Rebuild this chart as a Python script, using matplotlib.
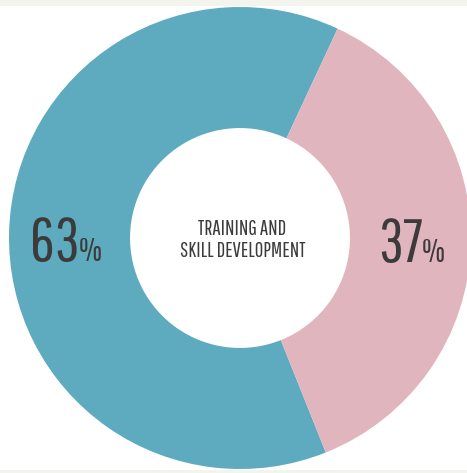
import matplotlib.pyplot as plt
from matplotlib.patches import Rectangle

shares = [63, 37]
labels = ['63', '37']
colors = ['#5eabbf', '#e1b5be']
center_lines = ['TRAINING AND', 'SKILL DEVELOPMENT']

font = ['Pathway Gothic One', 'Antonio', 'DejaVu Sans']
ink = '#3b3b3b'

fig = plt.figure(figsize=(4.67, 4.73), dpi=100, facecolor='#f4f4ee')
# white page area between the thin grey strips
fig.patches.append(Rectangle((0, 3 / 473), 1, 464 / 473, transform=fig.transFigure,
                             facecolor='white', edgecolor='none', zorder=-10))

ax = fig.add_axes([0, 0, 1, 1])
ax.set_zorder(1)
ax.patch.set_alpha(0)
ax.pie(shares, colors=colors, startangle=65, counterclock=True,
       wedgeprops=dict(width=0.524, edgecolor='none'))
r = 231
ax.set_xlim(-240 / r, (467 - 240) / r)
ax.set_ylim(-235 / r, 238 / r)
ax.set_aspect('auto')
ax.axis('off')

# big percentages
for x, y, lab in [(-0.693, -0.10, labels[0]), (0.792, -0.104, labels[1])]:
    ax.text(x, y, lab, ha='right', va='baseline', fontsize=44, color=ink,
            family=font)
    ax.text(x - 0.006, y, '%', ha='left', va='baseline', fontsize=24, color=ink,
            family=font)

ax.text(0.01, 0.013, center_lines[0], ha='center', va='baseline', fontsize=15,
        color=ink, family=font)
ax.text(0.01, -0.082, center_lines[1], ha='center', va='baseline', fontsize=15,
        color=ink, family=font)

fig.savefig('out.png', dpi=100, facecolor=fig.get_facecolor())
